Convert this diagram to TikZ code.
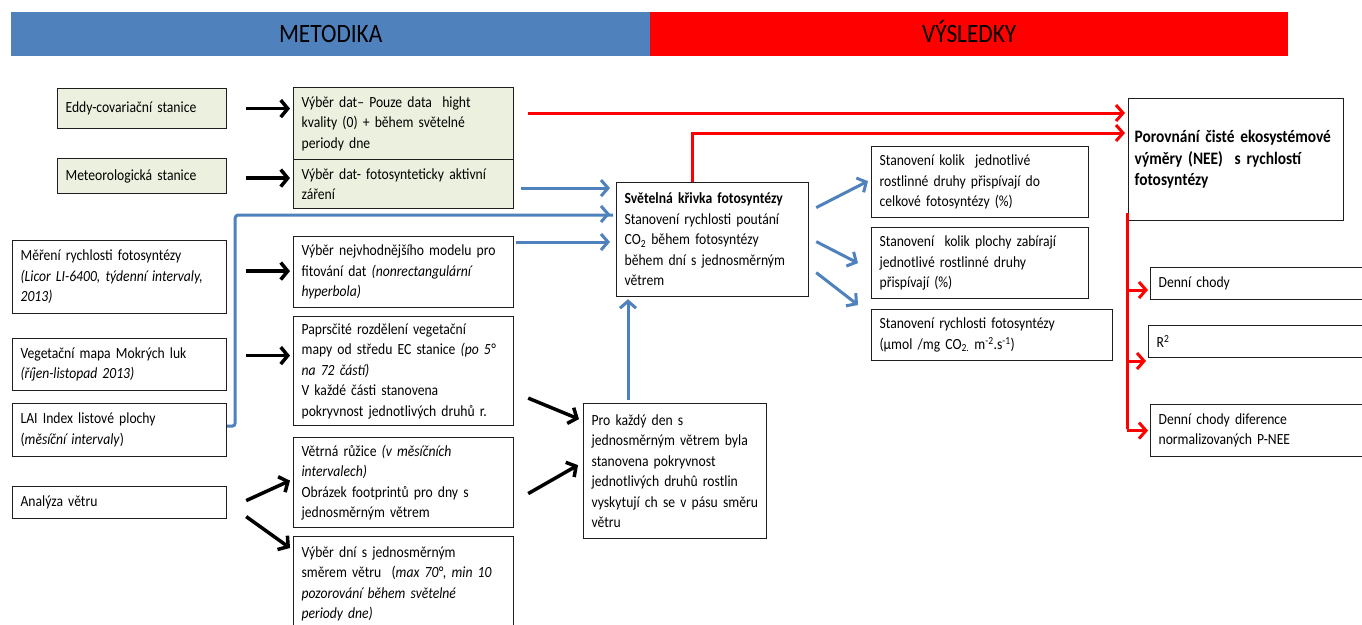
\documentclass[tikz,border=0pt]{standalone}
\usepackage{fontspec}
\setmainfont{Carlito}[FakeStretch=0.88]
\usetikzlibrary{arrows.meta,calc}
\definecolor{cream}{RGB}{235,241,222}
\definecolor{hblue}{RGB}{79,129,189}
\definecolor{hred}{RGB}{255,0,0}
\definecolor{boxline}{RGB}{30,30,30}
\begin{document}
\begin{tikzpicture}[x=1pt,y=-1pt,
  box/.style={draw=boxline, line width=1.2pt, inner xsep=8pt, inner ysep=1pt,
    align=left, anchor=north west, font=\fontsize{15.5}{20.5}\selectfont},
  gbox/.style={box, fill=cream},
  head/.style={anchor=north west, inner sep=0pt, minimum height=44pt,
    text height=17pt, text depth=0pt, font=\fontsize{26.5}{30}\selectfont},
  barr/.style={line width=3.5pt, -{Straight Barb[length=7pt,width=17pt]}},
  blarr/.style={hblue, line width=3pt, -{Straight Barb[length=7pt,width=16pt]}},
  blline/.style={hblue, line width=3pt},
  rarr/.style={hred, line width=3pt, -{Straight Barb[length=7pt,width=16pt]}},
  rline/.style={hred, line width=3pt},
]
\clip (0,0) rectangle (1362,624);
\fill[white] (0,0) rectangle (1362,624);

% headers
\node[head, fill=hblue, minimum width=639pt] (hmet) at (11,12) {METODIKA};
\node[head, fill=hred, minimum width=638pt] (hvys) at (650,12) {VÝSLEDKY};

% left column
\node[gbox, text width=153pt, minimum height=40pt] (eddy) at (57,88) {Eddy-covariační stanice};
\node[gbox, text width=153pt, minimum height=35pt] (meteo) at (57,158) {Meteorologická stanice};
\node[box, text width=198pt, minimum height=73pt] (meas) at (12,240) {Měření rychlosti fotosyntézy\\\textit{(Licor LI-6400, týdenní intervaly,}\\\textit{2013)}};
\node[box, text width=198pt, minimum height=52pt] (veg) at (12,338) {Vegetační mapa Mokrých luk\\\textit{(říjen-listopad 2013)}};
\node[box, text width=198pt, minimum height=53pt] (lai) at (12,403) {LAI Index listové plochy\\(\textit{měsíční intervaly})};
\node[box, text width=198pt, minimum height=32pt] (wind) at (12,486) {Analýza větru};

% second column
\node[gbox, text width=204pt, minimum height=72pt] (vd1) at (293,87) {Výběr dat– Pouze data \ hight\\kvality (0) + během světelné\\periody dne};
\node[gbox, text width=204pt, minimum height=49pt] (vd2) at (293,159) {Výběr dat- fotosynteticky aktivní\\záření};
\node[box, text width=204pt, minimum height=71pt] (model) at (293,236) {Výběr nejvhodnějšího modelu pro\\fitování dat \textit{(nonrectangulární}\\\textit{hyperbola)}};
\node[box, text width=204pt, minimum height=109pt] (papr) at (293,316) {Paprsčité rozdělení vegetační\\mapy od středu EC stanice \textit{(po 5°}\\\textit{na 72 částí)}\\V každé části stanovena\\pokryvnost jednotlivých druhů r.};
\node[box, text width=204pt, minimum height=90pt] (ruz) at (293,437) {Větrná růžice \textit{(v měsíčních}\\\textit{intervalech)}\\Obrázek footprintů pro dny s\\jednosměrným větrem};
\node[box, text width=204pt, minimum height=95pt] (dni) at (293,536) {Výběr dní s jednosměrným\\směrem větru \ (\textit{max 70°, min 10}\\\textit{pozorování během světelné}\\\textit{periody dne)}};

% centre
\node[box, text width=176pt, minimum height=114pt] (svet) at (616,182) {\textbf{Světelná křivka fotosyntézy}\\Stanovení rychlosti poutání\\CO\textsubscript{2} během fotosyntézy\\během dní s jednosměrným\\větrem};
\node[box, text width=167pt, minimum height=135pt] (pro) at (583,403) {Pro každý den s\\jednosměrným větrem byla\\stanovena pokryvnost\\jednotlivých druhû rostlin\\vyskytují ch se v pásu směru\\větru};

% right results
\node[box, text width=201pt, minimum height=71pt] (st1) at (871,146) {Stanovení kolik \ jednotlivé\\rostlinné druhy přispívají do\\celkové fotosyntézy (\%)};
\node[box, text width=201pt, minimum height=71pt] (st2) at (871,227) {Stanovení \ kolik plochy zabírají\\jednotlivé rostlinné druhy\\přispívají (\%)};
\node[box, text width=225pt, minimum height=51pt] (st3) at (871,309) {Stanovení rychlosti fotosyntézy\\(µmol /mg CO\textsubscript{2.} m\textsuperscript{-2}.s\textsuperscript{-1})};
\node[box, inner xsep=6pt, text width=203pt, minimum height=122pt, font=\fontsize{17.5}{21.5}\selectfont\bfseries] (porov) at (1128,98) {Porovnání čisté ekosystémové\\výměry (NEE) \ s rychlostí\\fotosyntézy};
\node[box, text width=214pt, minimum height=32pt] (dch) at (1150,267) {Denní chody};
\node[box, text width=214pt, minimum height=32pt] (rsq) at (1148,325) {R\textsuperscript{2}};
\node[box, text width=214pt, minimum height=52pt] (dif) at (1150,404) {Denní chody diference\\normalizovaných P-NEE};

% black arrows
\draw[barr, shorten <=19pt, shorten >=3pt] (eddy.east) -- (vd1.west |- eddy.east);
\draw[barr, shorten <=19pt, shorten >=3pt] ($(meteo.east)+(0,2)$) -- ($(vd2.west |- meteo.east)+(0,2)$);
\draw[barr, shorten <=19pt, shorten >=3pt] ($(meas.east |- model.west)+(0,-1)$) -- ($(model.west)+(0,-1)$);
\draw[barr, shorten <=19pt, shorten >=3pt] ($(veg.east)+(0,-9)$) -- ($(papr.west |- veg.east)+(0,-9)$);
\draw[barr] ($(wind.east)+(19,-2)$) -- ($(ruz.west)+(-3,-2)$);
\draw[barr] ($(wind.east)+(19,14)$) -- ($(dni.north west)+(-3,12)$);
\draw[barr] ($(papr.east)+(14,27)$) -- ($(pro.west)+(-4,-52)$);
\draw[barr] ($(ruz.east)+(14,11)$) -- ($(pro.west)+(-5,-6)$);

% blue arrows
\draw[blarr, shorten <=7pt, shorten >=6pt] ($(vd2.east)+(0,4)$) -- ($(svet.west |- vd2.east)+(0,4)$);
\coordinate (laiA) at ($(lai.east)+(8,-4)$);
\draw[blline, rounded corners=3pt] ($(lai.east)+(0,-4)$) -- (laiA) -- (laiA |- 0,215) -- ($(svet.west |- 0,215)+(-3,0)$);
\draw[blarr, shorten >=6pt] ($(svet.west |- 0,214)+(-8,0)$) -- (svet.west |- 0,214);
\draw[blarr, shorten <=2pt, shorten >=6pt] (model.north east |- 0,242) -- (svet.west |- 0,242);
\draw[blarr, shorten >=2pt] ($(pro.north west)+(45,-3)$) -- ($(svet.south west)+(12,0)$);
\draw[blarr] ($(svet.east)+(7,-32)$) -- ($(st1.west)+(-3,-1)$);
\draw[blarr] ($(svet.east)+(7,2)$) -- ($(st2.west)+(-13,0)$);
\draw[blarr] ($(svet.east)+(7,33)$) -- ($(st3.north west)+(-13,-4)$);

% red arrows
\draw[rarr, shorten <=14pt, shorten >=3pt] ($(vd1.north east)+(0,26)$) -- ($(porov.west |- vd1.north east)+(0,26)$);
\coordinate (svtop) at ($(svet.north west)+(76,0)$);
\draw[rarr, shorten >=3pt] (svtop) -- (svtop |- 0,133) -- (porov.west |- 0,133);
\coordinate (trk) at ($(porov.south west)+(-1,-8)$);
\coordinate (trkb) at (trk |- dif.west);
\draw[rline] (trk) -- ($(trkb)+(0,-1.5)$);
\draw[rarr, shorten >=2pt] (trk |- 0,290) -- (dch.west |- 0,290);
\draw[rarr, shorten >=2pt] (trk |- 0,361) -- (rsq.west |- 0,361);
\draw[rarr, shorten >=2pt] (trkb) -- (dif.west);
\end{tikzpicture}
\end{document}
